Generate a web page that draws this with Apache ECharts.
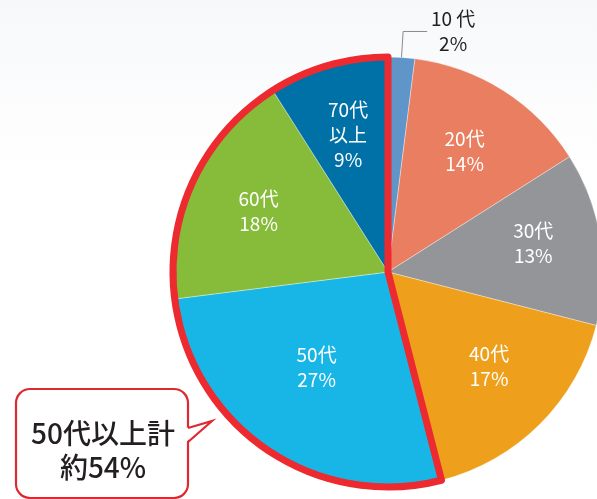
<!DOCTYPE html>
<html>
<head>
<meta charset="utf-8">
<script src="https://cdn.jsdelivr.net/npm/echarts@6/dist/echarts.min.js"></script>
<style>
  html, body { margin: 0; padding: 0; background: #fff; }
  #chart { width: 597px; height: 499px; }
</style>
</head>
<body>
<div id="chart"></div>
<script>
// 年代別の割合（%）
const categories = ['10代', '20代', '30代', '40代', '50代', '60代', '70代以上'];
const shares = [2, 14, 13, 17, 27, 18, 9];
const colors = ['#6095c9', '#e97e60', '#939598', '#eea01c', '#18b6e7', '#87bc3b', '#0071a6'];
// 赤枠で囲む年代（50代以上）
const highlighted = ['50代', '60代', '70代以上'];
const calloutLines = ['50代以上計', '約54%'];

const FONT = '"Noto Sans CJK JP", "Noto Sans", sans-serif';
const center = [388, 272];
const R = 215;

// ラベル位置の微調整 (px)
const labelNudge = { '30代': [4, -6], '40代': [0, -7], '50代': [9, -23] };

const highSum = categories.reduce((s, c, i) => highlighted.includes(c) ? s + shares[i] : s, 0);
const restSum = shares.reduce((a, b) => a + b, 0) - highSum;

const mainData = categories.map((name, i) => ({
  name: name,
  value: shares[i],
  itemStyle: { color: colors[i] },
  label: i === 0 ? { show: true } : { show: false },
  labelLine: { show: i === 0 }
}));

const labelData = categories.map((name, i) => ({
  name: name,
  value: shares[i],
  label: { show: i !== 0 }
}));

const chart = echarts.init(document.getElementById('chart'));
chart.setOption({
  backgroundColor: {
    type: 'linear', x: 0, y: 0, x2: 0, y2: 1,
    colorStops: [{ offset: 0, color: '#f7f8fa' }, { offset: 0.35, color: '#ffffff' }]
  },
  animation: false,
  series: [
    {
      type: 'pie',
      center: center,
      radius: [0, R],
      startAngle: 90,
      clockwise: true,
      silent: true,
      avoidLabelOverlap: false,
      itemStyle: { borderColor: 'rgba(255,255,255,0.6)', borderWidth: 0.6 },
      label: {
        position: 'outside',
        formatter: p => '{a|' + p.name.replace('代', ' 代') + '}\n{a|' + p.value + '%}',
        rich: {
          a: {
            color: '#231f20',
            fontFamily: FONT,
            fontSize: 19,
            lineHeight: 25,
            width: 42,
            align: 'center'
          }
        }
      },
      labelLine: {
        length: 26,
        length2: 24,
        smooth: false,
        lineStyle: { color: '#8a8a8a', width: 1 }
      },
      data: mainData
    },
    {
      type: 'pie',
      center: center,
      radius: [65, R],
      startAngle: 90,
      clockwise: true,
      silent: true,
      avoidLabelOverlap: false,
      itemStyle: { color: 'transparent' },
      label: {
        position: 'inside',
        color: '#ffffff',
        fontFamily: FONT,
        fontSize: 19,
        lineHeight: 25,
        formatter: p => p.name.replace('以上', '\n以上') + '\n' + p.value + '%'
      },
      labelLayout: p => {
        const d = labelNudge[categories[p.dataIndex]];
        return d ? { dx: d[0], dy: d[1] } : {};
      },
      labelLine: { show: false },
      data: labelData
    },
    {
      type: 'pie',
      center: center,
      radius: [0, R],
      startAngle: 90,
      clockwise: true,
      silent: true,
      z: 5,
      label: { show: false },
      labelLine: { show: false },
      data: [
        { value: restSum, itemStyle: { color: 'transparent', borderWidth: 0 } },
        { value: highSum, itemStyle: { color: 'transparent', borderColor: '#ec2a2f', borderWidth: 7, borderJoin: 'round' } }
      ]
    }
  ],
  graphic: [
    {
      type: 'rect',
      z: 10,
      shape: { x: 16, y: 389, width: 172, height: 109, r: 14 },
      style: { fill: '#ffffff', stroke: '#dd2a30', lineWidth: 2.2 }
    },
    {
      type: 'polygon',
      z: 11,
      shape: { points: [[186, 428], [212, 421], [186, 442]] },
      style: { fill: '#ffffff' }
    },
    {
      type: 'polyline',
      z: 12,
      shape: { points: [[188, 428], [212, 421], [188, 442]] },
      style: { fill: null, stroke: '#dd2a30', lineWidth: 2.2, lineJoin: 'miter' }
    },
    {
      type: 'text',
      z: 13,
      x: 103,
      y: 433,
      style: {
        text: calloutLines[0],
        fill: '#231f20',
        font: '500 28px ' + FONT,
        align: 'center',
        verticalAlign: 'middle'
      }
    },
    {
      type: 'text',
      z: 13,
      x: 103,
      y: 467,
      style: {
        text: calloutLines[1],
        fill: '#231f20',
        font: '500 28px ' + FONT,
        align: 'center',
        verticalAlign: 'middle'
      }
    }
  ]
});
</script>
</body>
</html>
